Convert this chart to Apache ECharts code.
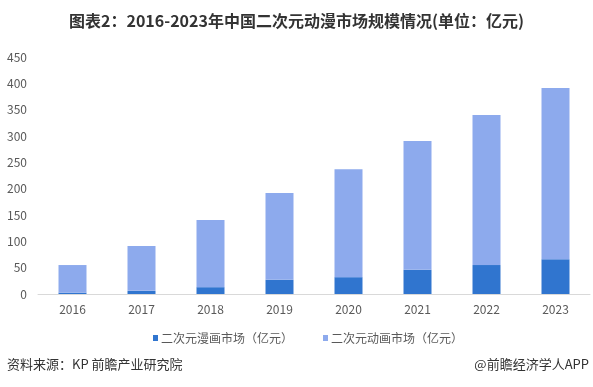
<!DOCTYPE html>
<html><head><meta charset="utf-8">
<script src="https://cdn.jsdelivr.net/npm/echarts@6/dist/echarts.min.js"></script>
<style>html,body{margin:0;padding:0;background:#fff}#c{width:593px;height:387px}</style>
</head><body><div id="c"></div>
<script>
const categories = ['2016','2017','2018','2019','2020','2021','2022','2023'];
const comicValues = [2.5, 6, 13, 27, 32, 46, 55, 66];
const animeValues = [52.5, 85, 127.5, 165, 205, 244.5, 285, 325];
const seriesNames = ['二次元漫画市场（亿元）', '二次元动画市场（亿元）'];
const yTicks = {min: 0, max: 450, interval: 50};

const font = '"Microsoft YaHei","Noto Sans CJK SC",sans-serif';
const chart = echarts.init(document.getElementById('c'));
chart.setOption({
  animation: false,
  textStyle: {fontFamily: font},
  title: {
    text: '图表2：2016-2023年中国二次元动漫市场规模情况(单位：亿元)',
    left: 'center', top: 8,
    textStyle: {fontSize: 16, fontWeight: 'bold', color: '#333', fontFamily: font}
  },
  legend: {
    top: 327, left: 148, itemWidth: 5, itemHeight: 6, itemGap: 30,
    icon: 'rect',
    textStyle: {fontSize: 12, color: '#595959', fontFamily: font, padding: [0,0,0,-2]},
    data: seriesNames
  },
  grid: {left: 38, right: 3, top: 57, bottom: 93},
  xAxis: {
    type: 'category', data: categories,
    axisLine: {lineStyle: {color: '#d9d9d9'}},
    axisTick: {show: false},
    axisLabel: {color: '#595959', fontSize: 12, margin: 9}
  },
  yAxis: {
    type: 'value', min: yTicks.min, max: yTicks.max, interval: yTicks.interval,
    splitLine: {show: false},
    axisLine: {show: false}, axisTick: {show: false},
    axisLabel: {color: '#595959', fontSize: 12, margin: 11}
  },
  series: [
    {name: seriesNames[0], type: 'bar', stack: 't', data: comicValues, barWidth: 28,
     itemStyle: {color: '#3075CF'}},
    {name: seriesNames[1], type: 'bar', stack: 't', data: animeValues, barWidth: 28,
     itemStyle: {color: '#8DAAED'}}
  ],
  graphic: [
    {type: 'text', left: 7, top: 358, style: {text: '资料来源：KP 前瞻产业研究院', fill: '#333', font: '13px ' + font}},
    {type: 'text', right: 4, top: 358, style: {text: '@前瞻经济学人APP', fill: '#333', font: '13px ' + font}}
  ]
});
</script></body></html>
